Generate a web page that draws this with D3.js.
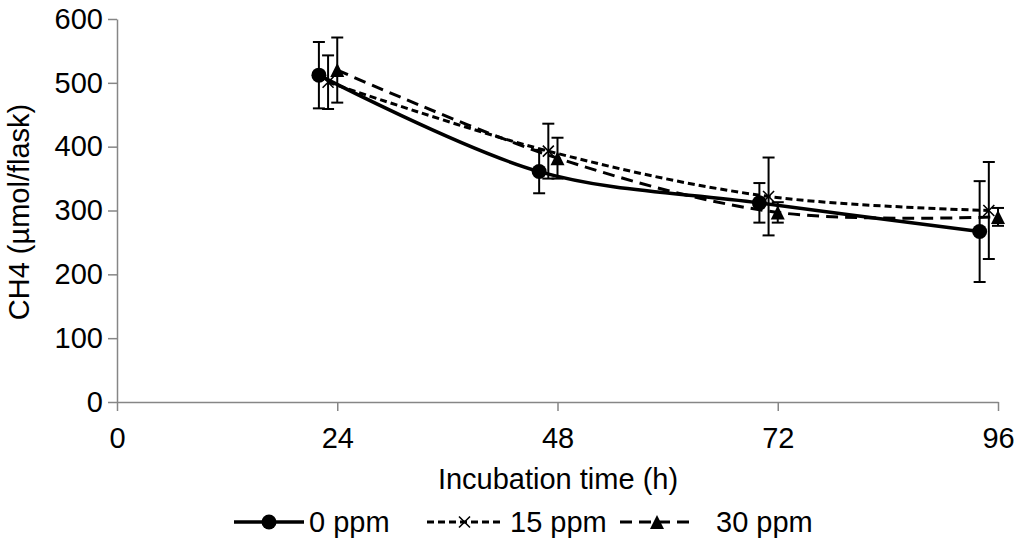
<!DOCTYPE html>
<html>
<head>
<meta charset="utf-8">
<script src="https://cdn.jsdelivr.net/npm/d3@7"></script>
<style>
  html, body { margin: 0; padding: 0; background: #fff; }
  svg { display: block; font-family: "Liberation Sans", Arial, sans-serif; }
</style>
</head>
<body>
<svg id="chart" width="1017" height="540"></svg>
<script>
// CH4 per flask over incubation time, three doses (mean ± error)
const xTicks = [0, 24, 48, 72, 96];
const yTicks = [0, 100, 200, 300, 400, 500, 600];

const time0  = [22, 46, 70, 94];
const mean0  = [512, 361, 312, 267];
const err0   = [52, 34, 31, 79];

const time15 = [23, 47, 71, 95];
const mean15 = [501, 393, 322, 300];
const err15  = [42, 43, 61, 76];

const time30 = [24, 48, 72, 96];
const mean30 = [520, 382, 297, 290];
const err30  = [51, 32, 16, 14];

const seriesNames = ["0 ppm", "15 ppm", "30 ppm"];

const series = [
  { name: seriesNames[0], t: time0,  m: mean0,  e: err0,  dash: null,    width: 3.5, marker: "circle" },
  { name: seriesNames[1], t: time15, m: mean15, e: err15, dash: "7,4",   width: 3,   marker: "x" },
  { name: seriesNames[2], t: time30, m: mean30, e: err30, dash: "12,7",  width: 3,   marker: "triangle" }
];

const svg = d3.select("#chart");
const FONT = 29;
const AXIS = "#868686";

const x = d3.scaleLinear().domain([0, 96]).range([117, 998]);
const y = d3.scaleLinear().domain([0, 600]).range([402, 19]);

// axes
const gx = svg.append("g").attr("transform", `translate(0,${y(0)})`)
  .call(d3.axisBottom(x).tickValues(xTicks).tickSize(9).tickSizeOuter(0).tickPadding(16));
const gy = svg.append("g").attr("transform", `translate(${x(0)},0)`)
  .call(d3.axisLeft(y).tickValues(yTicks).tickSize(9).tickSizeOuter(0).tickPadding(5));
[gx, gy].forEach(g => {
  g.select(".domain").attr("stroke", AXIS).attr("stroke-width", 1.5);
  g.selectAll(".tick line").attr("stroke", AXIS).attr("stroke-width", 1.5);
  g.selectAll(".tick text").attr("fill", "#000").style("font-size", FONT + "px")
    .style("font-family", '"Liberation Sans", Arial, sans-serif');
});

// axis titles
svg.append("text").attr("x", 558).attr("y", 489).attr("text-anchor", "middle")
  .style("font-size", FONT + "px").text("Incubation time (h)");
svg.append("text").attr("transform", "translate(29,212) rotate(-90)").attr("text-anchor", "middle")
  .style("font-size", FONT + "px").text("CH4 (µmol/flask)");

// marker shapes
function markerPath(kind, s) {
  const h = s / 2;
  if (kind === "triangle") return `M0,${-h}L${h},${h}L${-h},${h}Z`;
  if (kind === "x") return `M${-h},${-h}L${h},${h}M${h},${-h}L${-h},${h}`;
  return d3.symbol(d3.symbolCircle, Math.PI * h * h)();
}
function drawMarker(g, kind, cx, cy) {
  const p = g.append("path").attr("transform", `translate(${cx},${cy})`);
  if (kind === "circle") p.attr("d", markerPath("circle", 15)).attr("fill", "#000");
  else if (kind === "triangle") p.attr("d", markerPath("triangle", 14)).attr("fill", "#000");
  else p.attr("d", markerPath("x", 11)).attr("fill", "none").attr("stroke", "#000").attr("stroke-width", 1.6);
}

const line = d3.line().curve(d3.curveCatmullRom.alpha(0.5));

series.forEach(s => {
  const pts = s.t.map((t, i) => [x(t), y(s.m[i])]);
  const g = svg.append("g");
  g.append("path").attr("d", line(pts)).attr("fill", "none").attr("stroke", "#000")
    .attr("stroke-width", s.width).attr("stroke-dasharray", s.dash);
  // error bars
  s.t.forEach((t, i) => {
    const cx = x(t), top = y(s.m[i] + s.e[i]), bot = y(s.m[i] - s.e[i]);
    g.append("line").attr("x1", cx).attr("x2", cx).attr("y1", top).attr("y2", bot)
      .attr("stroke", "#000").attr("stroke-width", 2);
    [top, bot].forEach(yy => g.append("line").attr("x1", cx - 6).attr("x2", cx + 6)
      .attr("y1", yy).attr("y2", yy).attr("stroke", "#000").attr("stroke-width", 2));
  });
  pts.forEach(p => drawMarker(g, s.marker, p[0], p[1]));
});

// legend
const legendY = 522;
const legendItems = [
  { x0: 234, x1: 304, tx: 309 },
  { x0: 427, x1: 502, tx: 510 },
  { x0: 620, x1: 694, tx: 716 }
];
series.forEach((s, i) => {
  const L = legendItems[i];
  const g = svg.append("g");
  g.append("line").attr("x1", L.x0).attr("x2", L.x1).attr("y1", legendY).attr("y2", legendY)
    .attr("stroke", "#000").attr("stroke-width", s.width).attr("stroke-dasharray", s.dash);
  drawMarker(g, s.marker, (L.x0 + L.x1) / 2, legendY);
  g.append("text").attr("x", L.tx).attr("y", legendY + 10).style("font-size", FONT + "px").text(s.name);
});
</script>
</body>
</html>
